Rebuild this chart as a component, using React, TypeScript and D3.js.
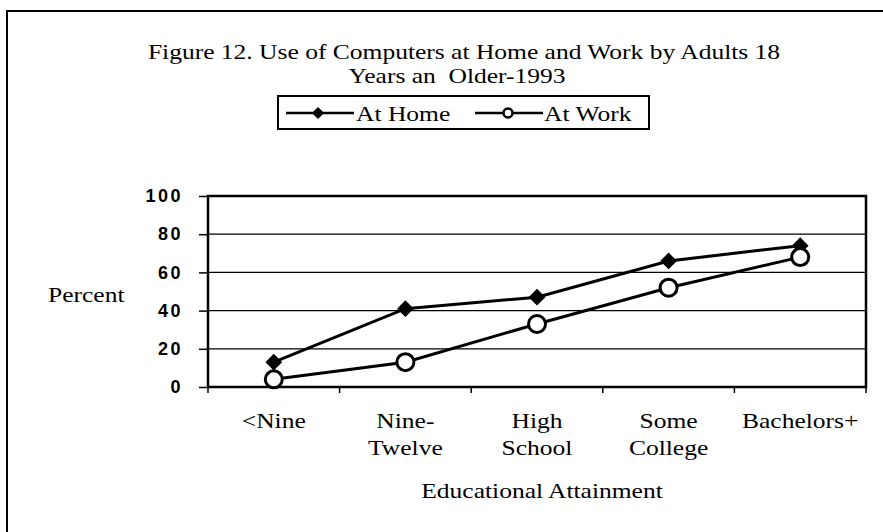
import React, { useEffect, useRef } from 'react';
import * as d3 from 'd3';

const categories = ['<Nine', 'Nine-|Twelve', 'High|School', 'Some|College', 'Bachelors+'];
const atHome = [13, 41, 47, 66, 74];
const atWork = [4, 13, 33, 52, 68];
const yTicks = [0, 20, 40, 60, 80, 100];

const W = 883;
const H = 532;
const serif = '"Liberation Serif", "Times New Roman", serif';
const sans = '"Liberation Sans", Arial, sans-serif';
const SX = 1.16; // scanned serif text is wider than Times

export default function App() {
  const ref = useRef<SVGSVGElement>(null);

  useEffect(() => {
    const svg = d3.select(ref.current);
    svg.selectAll('*').remove();

    const left = 208, right = 866, top = 196, bottom = 387;

    const x = d3.scaleBand().domain(categories).range([left, right]).padding(0);
    const y = d3.scaleLinear().domain([0, 100]).range([bottom, top]);

    // stretched serif text helper
    const label = (tx: number, ty: number, str: string, anchor = 'middle', size = 22) =>
      svg.append('text')
        .attr('transform', `translate(${tx},${ty}) scale(${SX},1)`)
        .attr('text-anchor', anchor)
        .attr('font-family', serif).attr('font-size', size).attr('fill', '#000')
        .attr('xml:space', 'preserve')
        .text(str);

    // outer frame (top + left only visible)
    svg.append('path')
      .attr('d', `M7,${H} L7,11 L${W},11`)
      .attr('fill', 'none').attr('stroke', '#000').attr('stroke-width', 2);

    // title
    label(464, 59, 'Figure 12. Use of Computers at Home and Work by Adults 18');
    label(457, 83, 'Years an  Older-1993');

    // legend
    svg.append('rect').attr('x', 278).attr('y', 96).attr('width', 371).attr('height', 33)
      .attr('fill', 'none').attr('stroke', '#000').attr('stroke-width', 2);
    const lg = svg.append('g');
    lg.append('line').attr('x1', 286).attr('x2', 354).attr('y1', 113).attr('y2', 113).attr('stroke', '#000').attr('stroke-width', 2.5);
    lg.append('path').attr('d', d3.symbol(d3.symbolSquare, 75)()).attr('transform', 'translate(318,113) rotate(45)').attr('fill', '#000');
    label(356, 121, 'At Home', 'start');
    lg.append('line').attr('x1', 475).attr('x2', 543).attr('y1', 113).attr('y2', 113).attr('stroke', '#000').attr('stroke-width', 2.5);
    lg.append('circle').attr('cx', 508).attr('cy', 113).attr('r', 4.5).attr('fill', '#fff').attr('stroke', '#000').attr('stroke-width', 2.5);
    label(544, 121, 'At Work', 'start');

    // gridlines
    svg.append('g').selectAll('line').data(yTicks.slice(1, -1)).enter().append('line')
      .attr('x1', left).attr('x2', right).attr('y1', d => y(d)).attr('y2', d => y(d))
      .attr('stroke', '#000').attr('stroke-width', 1.3);

    // plot frame
    svg.append('rect').attr('x', left).attr('y', top).attr('width', right - left).attr('height', bottom - top)
      .attr('fill', 'none').attr('stroke', '#000').attr('stroke-width', 2.5);

    // y axis
    const yAxis = svg.append('g').attr('transform', `translate(${left},0)`)
      .call(d3.axisLeft(y).tickValues(yTicks).tickSize(9).tickPadding(16).tickFormat(d3.format('d')));
    yAxis.select('.domain').remove();
    yAxis.selectAll('line').attr('stroke', '#000').attr('stroke-width', 1.5);
    yAxis.selectAll('text').attr('font-family', sans).attr('font-size', 18).attr('font-weight', 'bold')
      .attr('letter-spacing', 2.5).attr('fill', '#000');

    // x axis ticks at band edges
    const edges = categories.map(c => x(c) as number).concat([right]);
    svg.append('g').selectAll('line').data(edges).enter().append('line')
      .attr('x1', d => d).attr('x2', d => d).attr('y1', bottom).attr('y2', bottom + 6)
      .attr('stroke', '#000').attr('stroke-width', 1.5);

    // category labels
    categories.forEach(c => {
      const cx = (x(c) as number) + x.bandwidth() / 2;
      c.split('|').forEach((part, i) => label(cx, 428 + i * 27, part));
    });

    // axis titles
    label((left + right) / 2 + 5, 498, 'Educational Attainment');
    label(48, 302, 'Percent', 'start');

    // series
    const cxOf = (i: number) => (x(categories[i]) as number) + x.bandwidth() / 2;
    const line = d3.line<number>().x((_, i) => cxOf(i)).y(d => y(d));

    svg.append('path').datum(atHome).attr('d', line).attr('fill', 'none').attr('stroke', '#000').attr('stroke-width', 3);
    svg.append('path').datum(atWork).attr('d', line).attr('fill', 'none').attr('stroke', '#000').attr('stroke-width', 3);

    svg.append('g').selectAll('path').data(atHome).enter().append('path')
      .attr('d', d3.symbol(d3.symbolSquare, 140)())
      .attr('transform', (d, i) => `translate(${cxOf(i)},${y(d)}) rotate(45)`).attr('fill', '#000');

    svg.append('g').selectAll('circle').data(atWork).enter().append('circle')
      .attr('cx', (_, i) => cxOf(i)).attr('cy', d => y(d)).attr('r', 8.5)
      .attr('fill', '#fff').attr('stroke', '#000').attr('stroke-width', 3);
  }, []);

  return (
    <svg ref={ref} width={W} height={H} style={{ position: 'absolute', left: 0, top: 0, background: '#fff' }} />
  );
}
